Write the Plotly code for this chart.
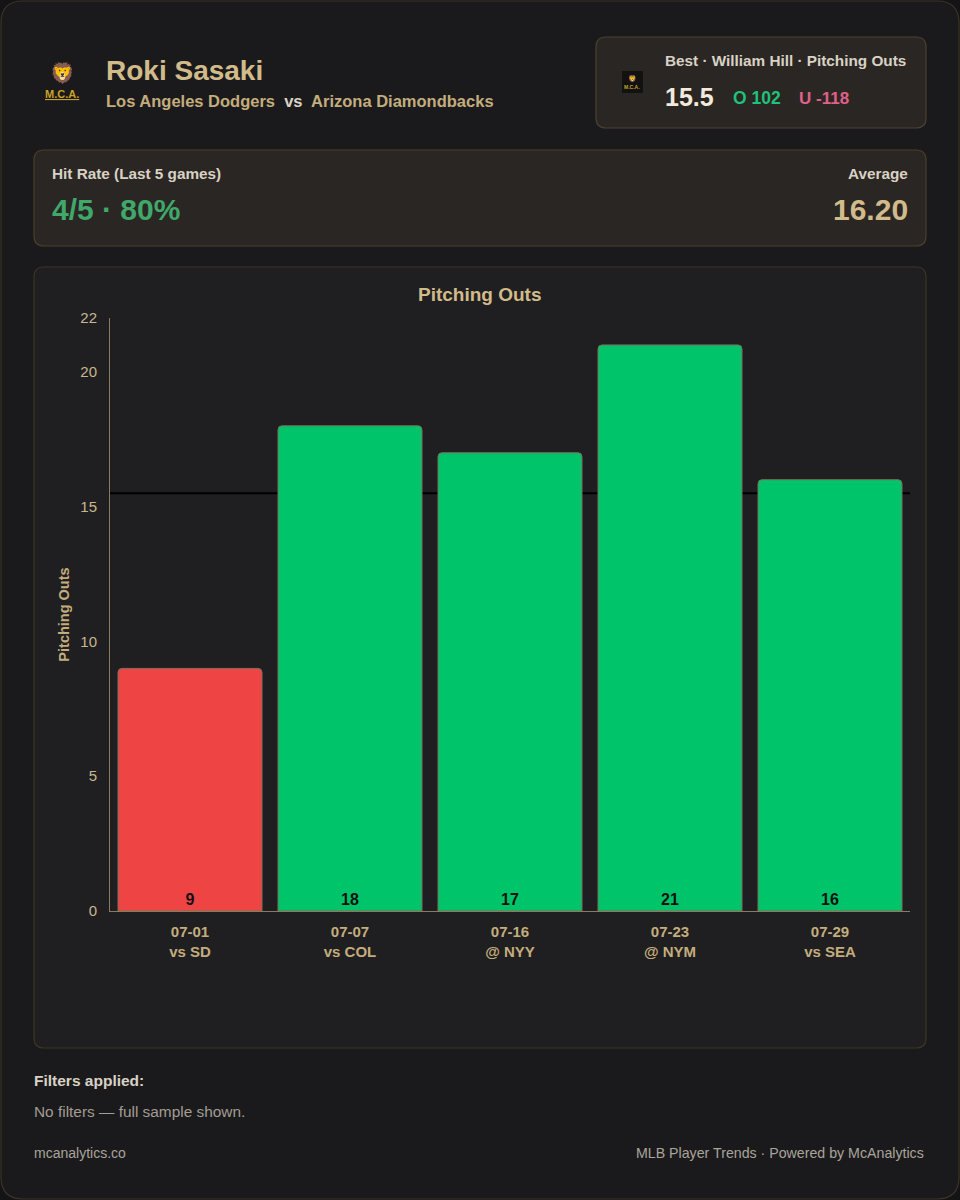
import plotly.graph_objects as go

# chart data
dates = ["07-01", "07-07", "07-16", "07-23", "07-29"]
opponents = ["vs SD", "vs COL", "@ NYY", "@ NYM", "vs SEA"]
pitching_outs = [9, 18, 17, 21, 16]
prop_line = 15.5
y_ticks = [0, 5, 10, 15, 20, 22]

player = "Roki Sasaki"
team = "Los Angeles Dodgers"
opponent_team = "Arizona Diamondbacks"
book_label = "Best · William Hill · Pitching Outs"
over_odds = "O 102"
under_odds = "U -118"
hit_rate = "4/5 · 80%"
average = "16.20"

W, H = 960, 1200
FONT = "Liberation Sans, Arial, sans-serif"
GOLD = "#d2bb8a"
GOLD_DIM = "#c4ad7c"
LIGHT = "#d9d2c4"
GREEN = "#00c46a"
RED = "#ef4444"


def px(x):
    return x / W


def py(y):
    return 1 - y / H


def card(x0, y0, x1, y1, fill, line, r=10):
    # rounded rectangle path in paper coords
    path = (
        f"M {px(x0 + r)},{py(y0)} L {px(x1 - r)},{py(y0)} "
        f"Q {px(x1)},{py(y0)} {px(x1)},{py(y0 + r)} "
        f"L {px(x1)},{py(y1 - r)} Q {px(x1)},{py(y1)} {px(x1 - r)},{py(y1)} "
        f"L {px(x0 + r)},{py(y1)} Q {px(x0)},{py(y1)} {px(x0)},{py(y1 - r)} "
        f"L {px(x0)},{py(y0 + r)} Q {px(x0)},{py(y0)} {px(x0 + r)},{py(y0)} Z"
    )
    return dict(type="path", xref="paper", yref="paper", path=path,
                fillcolor=fill, line=dict(color=line, width=1.2), layer="below")


def label(x, y, text, size, color, anchor="left", bold=False):
    if bold:
        text = f"<b>{text}</b>"
    # annotation boxes carry a little padding, nudge so text edges land on x
    if anchor == "left":
        x -= 2
    elif anchor == "right":
        x += 2
    return dict(x=px(x), y=py(y), xref="paper", yref="paper", text=text,
                showarrow=False, xanchor=anchor, yanchor="middle",
                font=dict(family=FONT, size=size, color=color))


x_labels = [f"{d}<br>{o}" for d, o in zip(dates, opponents)]
bar_colors = [GREEN if v > prop_line else RED for v in pitching_outs]

fig = go.Figure()
fig.add_trace(go.Bar(
    x=x_labels,
    y=pitching_outs,
    marker=dict(color=bar_colors, line=dict(color="#7d705a", width=1)),
    text=[f"<b>{v}</b>" for v in pitching_outs],
    textposition="inside",
    insidetextanchor="start",
    textangle=0,
    textfont=dict(family=FONT, size=16, color="#111111"),
    hoverinfo="skip",
))

shapes = [
    card(1, 1, 959, 1199, "#1a1a1c", "#3d3424", r=22),
    card(596, 37, 926, 128, "#2a2623", "#4a4030", r=10),
    card(34, 150, 926, 246, "#2a2623", "#4a3f2a", r=10),
    card(34, 267, 926, 1048, "#1f1f21", "#3d3526", r=10),
    # small logo tile in the odds box
    dict(type="rect", xref="paper", yref="paper", x0=px(622), x1=px(643),
         y0=py(93), y1=py(71), fillcolor="#121212", line=dict(width=0),
         layer="below"),
    dict(type="line", xref="paper", yref="y", x0=px(110), x1=px(910),
         y0=prop_line, y1=prop_line, line=dict(color="#000000", width=2),
         layer="below"),
]

annotations = [
    label(62, 73, "🦁", 20, "#c9a227", anchor="center"),
    label(62, 94, "<u>M.C.A.</u>", 11, "#c9a227", anchor="center", bold=True),
    label(106, 70, player, 28, GOLD, bold=True),
    label(106, 101, f"{team}  <span style='color:{LIGHT}'>vs</span>  {opponent_team}",
          16.5, GOLD_DIM, bold=True),
    label(632, 79, "🦁", 7, "#c9a227", anchor="center"),
    label(632, 87, "M.C.A.", 5, "#c9a227", anchor="center", bold=True),
    label(906, 61, book_label, 15.3, LIGHT, anchor="right", bold=True),
    label(665, 97, prop_line, 25, "#f2ebdc", bold=True),
    label(733, 98, over_odds, 17.5, "#1fc27a", bold=True),
    label(799, 98, under_odds, 17, "#e0608a", bold=True),
    label(52, 173, "Hit Rate (Last 5 games)", 15.3, LIGHT, bold=True),
    label(52, 209, hit_rate, 30, "#3fa86a", bold=True),
    label(908, 173, "Average", 15.3, LIGHT, anchor="right", bold=True),
    label(908, 209, average, 30, GOLD, anchor="right", bold=True),
    label(480, 294, "Pitching Outs", 19, GOLD, anchor="center", bold=True),
    label(34, 1080, "Filters applied:", 15.5, LIGHT, bold=True),
    label(34, 1111, "No filters — full sample shown.", 15.4, "#a39d93"),
    label(34, 1153, "mcanalytics.co", 14, "#aaa49a"),
    label(924, 1153, "MLB Player Trends · Powered by McAnalytics", 14.2, "#aaa49a",
          anchor="right"),
]

fig.update_layout(
    width=W,
    height=H,
    margin=dict(l=0, r=0, t=0, b=0, pad=0, autoexpand=False),
    paper_bgcolor="#141416",
    plot_bgcolor="rgba(0,0,0,0)",
    showlegend=False,
    bargap=0.1,
    barcornerradius=4,
    shapes=shapes,
    annotations=annotations,
    font=dict(family=FONT, color=GOLD),
    xaxis=dict(
        domain=[px(110), px(910)],
        showgrid=False,
        zeroline=False,
        showline=True,
        linecolor="#8a7b5c",
        linewidth=1,
        ticks="",
        ticklabelstandoff=7,
        automargin=False,
        tickfont=dict(family=FONT, size=15, color=GOLD_DIM),
        tickprefix="<b>",
        ticksuffix="</b>",
    ),
    yaxis=dict(
        domain=[py(911), py(318)],
        range=[0, 22],
        tickvals=y_ticks,
        showgrid=False,
        zeroline=False,
        showline=True,
        linecolor="#8a7b5c",
        linewidth=1,
        ticks="",
        ticklabelstandoff=9,
        automargin=False,
        tickfont=dict(family=FONT, size=15, color="#c9b68e"),
        title=dict(text="<b>Pitching Outs</b>", standoff=7,
                   font=dict(family=FONT, size=14.5, color=GOLD_DIM)),
    ),
)

fig.write_html(
    "out.html",
    config={"displayModeBar": False, "responsive": False},
    post_script="document.body.style.margin='0';",
)
